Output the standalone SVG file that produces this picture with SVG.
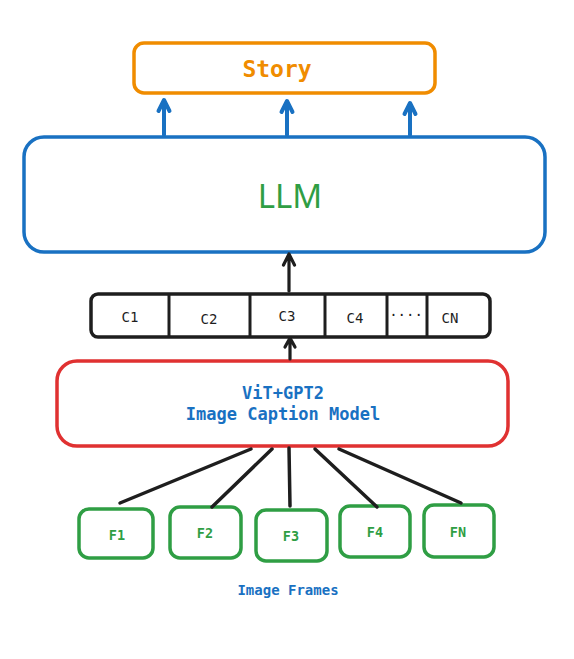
<svg xmlns="http://www.w3.org/2000/svg" width="574" height="659" viewBox="0 0 574 659">
<style>
.box{fill:#fff;stroke-linecap:round;stroke-linejoin:round}
.mono{font-family:"DejaVu Sans Mono","Liberation Mono",monospace;text-anchor:middle}
.c{font-size:14px;fill:#1e1e1e}
.f{font-size:13.5px;fill:#2f9e44;font-weight:bold}
.conn{fill:none;stroke-linecap:round;stroke-linejoin:round}
</style>
<rect width="574" height="659" fill="#fff"/>
<g id="story">
<rect class="box" x="134" y="43" width="301" height="50" rx="10" stroke="#f08c00" stroke-width="3.5"/>
<text class="mono" x="277" y="77" font-size="23" fill="#f08c00" font-weight="bold">Story</text>
</g>
<g id="llm">
<rect class="box" x="24" y="137" width="521" height="115" rx="20" stroke="#1971c2" stroke-width="3.5"/>
<text x="290" y="208" font-family="'Noto Sans','Open Sans',sans-serif" font-size="33" fill="#2f9e44" text-anchor="middle">LLM</text>
</g>
<g id="captions">
<rect class="box" x="91" y="294" width="399" height="43" rx="7" stroke="#1e1e1e" stroke-width="3.5"/>
<g stroke="#1e1e1e" stroke-width="3">
<line x1="169" y1="295" x2="169" y2="336"/>
<line x1="250" y1="295" x2="250" y2="336"/>
<line x1="325" y1="295" x2="325" y2="336"/>
<line x1="387" y1="295" x2="387" y2="336"/>
<line x1="427" y1="295" x2="427" y2="336"/>
</g>
<text class="mono c" x="130" y="322">C1</text>
<text class="mono c" x="209" y="324">C2</text>
<text class="mono c" x="287" y="321">C3</text>
<text class="mono c" x="355" y="323">C4</text>
<text class="mono c" x="406" y="320">····</text>
<text class="mono c" x="450" y="323">CN</text>
</g>
<g id="caption-model">
<rect class="box" x="57" y="361" width="451" height="85" rx="20" stroke="#e03131" stroke-width="3.5"/>
<text class="mono" x="283" y="399" font-size="17" fill="#1971c2" font-weight="bold">ViT+GPT2</text>
<text class="mono" x="283" y="420" font-size="17" fill="#1971c2" font-weight="bold">Image Caption Model</text>
</g>
<g id="frames">
<rect class="box" x="79" y="509" width="74" height="49" rx="10" stroke="#2f9e44" stroke-width="3.5"/>
<text class="mono f" x="117" y="540">F1</text>
<rect class="box" x="170" y="507" width="71" height="51" rx="10" stroke="#2f9e44" stroke-width="3.5"/>
<text class="mono f" x="205" y="538">F2</text>
<rect class="box" x="256" y="510" width="71" height="51" rx="10" stroke="#2f9e44" stroke-width="3.5"/>
<text class="mono f" x="291" y="541">F3</text>
<rect class="box" x="340" y="506" width="70" height="51" rx="10" stroke="#2f9e44" stroke-width="3.5"/>
<text class="mono f" x="375" y="537">F4</text>
<rect class="box" x="424" y="505" width="70" height="52" rx="10" stroke="#2f9e44" stroke-width="3.5"/>
<text class="mono f" x="458" y="537">FN</text>
</g>
<g id="frames-label">
<text class="mono" x="288" y="595" font-size="14" fill="#1971c2" font-weight="bold">Image Frames</text>
</g>
<g id="connectors">
<g class="conn" stroke="#1971c2" stroke-width="4">
<path d="M164 135 V101 M158.5 111 L164 100 L169.5 111"/>
<path d="M287 135 V102 M281.5 112 L287 101 L292.5 112"/>
<path d="M410 135 V104 M404.5 114 L410 103 L415.5 114"/>
</g>
<g class="conn" stroke="#1e1e1e" stroke-width="3.2">
<path d="M289 291 V255 M283.5 265 L289 254 L294.5 265"/>
<path d="M290 359 V339 M285 347 L290 338 L295 347"/>
</g>
<g class="conn" stroke="#1e1e1e" stroke-width="3.5">
<line x1="120" y1="503" x2="251" y2="449"/>
<line x1="212" y1="507" x2="272" y2="449"/>
<line x1="290" y1="506" x2="289" y2="448"/>
<line x1="377" y1="507" x2="315" y2="449"/>
<line x1="461" y1="503" x2="339" y2="449"/>
</g>
</g>
</svg>
